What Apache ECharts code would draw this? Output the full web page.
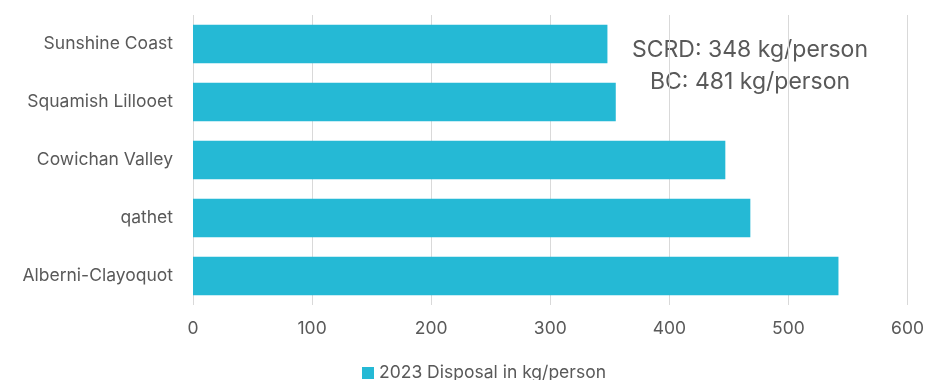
<!DOCTYPE html>
<html>
<head>
<meta charset="utf-8">
<script src="https://cdn.jsdelivr.net/npm/echarts@6/dist/echarts.min.js"></script>
<style>
  html, body { margin: 0; padding: 0; background: #fff; }
  #chart { width: 927px; height: 380px; }
</style>
</head>
<body>
<div id="chart"></div>
<script>
// Regional districts, listed top to bottom
const regions = ['Sunshine Coast', 'Squamish Lillooet', 'Cowichan Valley', 'qathet', 'Alberni-Clayoquot'];
// 2023 disposal, kg per person
const disposal = [348, 355, 447, 468, 542];
const seriesName = '2023 Disposal in kg/person';
const bcAverage = 481;
const xTicks = [0, 100, 200, 300, 400, 500, 600];

const textColor = '#595959';
const fontFamily = 'Inter, "Open Sans", "Noto Sans", sans-serif';

const chart = echarts.init(document.getElementById('chart'), null, { renderer: 'canvas' });
chart.setOption({
  animation: false,
  grid: { left: 193, right: 17, top: 15, bottom: 75, containLabel: false },
  xAxis: {
    type: 'value',
    min: xTicks[0],
    max: xTicks[xTicks.length - 1],
    interval: 100,
    axisLine: { show: false },
    axisTick: { show: false },
    splitLine: { show: true, lineStyle: { color: '#d9d9d9', width: 1 } },
    axisLabel: { color: textColor, fontSize: 17.5, fontFamily: fontFamily, margin: 15 }
  },
  yAxis: {
    type: 'category',
    data: regions,
    inverse: true,
    axisLine: { show: false },
    axisTick: { show: false },
    axisLabel: { color: textColor, fontSize: 17.5, fontFamily: fontFamily, margin: 20 }
  },
  legend: {
    bottom: -7,
    left: 357,
    itemWidth: 12,
    itemHeight: 12,
    itemGap: 4,
    icon: 'rect',
    textStyle: { color: textColor, fontSize: 17.5, fontFamily: fontFamily },
    data: [seriesName]
  },
  series: [{
    name: seriesName,
    type: 'bar',
    data: disposal,
    barWidth: '66%',
    itemStyle: { color: '#25b9d5' }
  }],
  graphic: [{
    type: 'text',
    x: 750,
    y: 34,
    style: {
      text: 'SCRD: ' + disposal[0] + ' kg/person\nBC: ' + bcAverage + ' kg/person',
      fill: textColor,
      font: '23px ' + fontFamily,
      align: 'center',
      verticalAlign: 'top',
      lineHeight: 32
    }
  }]
});
</script>
</body>
</html>
